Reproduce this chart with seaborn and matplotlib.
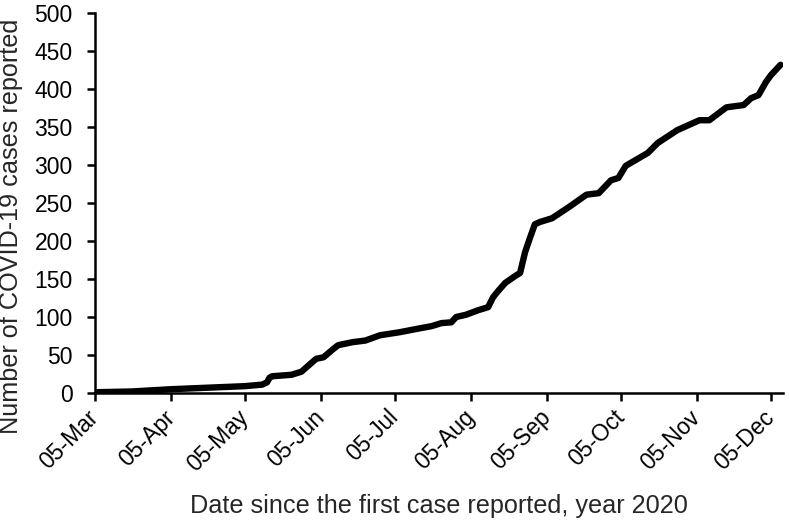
import pandas as pd
import matplotlib.pyplot as plt
import matplotlib.dates as mdates
import seaborn as sns

# cumulative reported cases
dates = ['2020-03-05', '2020-03-20', '2020-04-05', '2020-04-20', '2020-05-05',
         '2020-05-12', '2020-05-14', '2020-05-15', '2020-05-16', '2020-05-24',
         '2020-05-28', '2020-06-03', '2020-06-06', '2020-06-10', '2020-06-12',
         '2020-06-18', '2020-06-23', '2020-06-29', '2020-07-07', '2020-07-15',
         '2020-07-20', '2020-07-24', '2020-07-28', '2020-07-30', '2020-08-03',
         '2020-08-08', '2020-08-12', '2020-08-14', '2020-08-16', '2020-08-19',
         '2020-08-23', '2020-08-25', '2020-08-27', '2020-08-29', '2020-08-31',
         '2020-09-02', '2020-09-07', '2020-09-14', '2020-09-21', '2020-09-26',
         '2020-10-01', '2020-10-04', '2020-10-07', '2020-10-16', '2020-10-20',
         '2020-10-28', '2020-11-06', '2020-11-10', '2020-11-17', '2020-11-24',
         '2020-11-27', '2020-11-30', '2020-12-03', '2020-12-05', '2020-12-09']
cases = [1, 2, 5, 7, 9,
         11, 14, 20, 22, 24,
         28, 45, 47, 58, 63,
         67, 69, 76, 80, 85,
         88, 92, 93, 100, 103,
         109, 113, 126, 134, 145,
         154, 158, 185, 204, 222,
         225, 230, 245, 261, 263,
         280, 283, 299, 316, 329,
         346, 359, 359, 376, 379,
         388, 392, 409, 418, 432]

tick_dates = ['2020-03-05', '2020-04-05', '2020-05-05', '2020-06-05', '2020-07-05',
              '2020-08-05', '2020-09-05', '2020-10-05', '2020-11-05', '2020-12-05']

df = pd.DataFrame({'date': pd.to_datetime(dates), 'cases': cases})

sns.set_style("ticks")
plt.rcParams['font.family'] = ['Liberation Sans', 'DejaVu Sans']

fig = plt.figure(figsize=(7.89, 5.24), dpi=100)
ax = fig.add_axes([0.1204, 0.25, 0.872, 0.725])

sns.lineplot(data=df, x='date', y='cases', color='black', linewidth=4.6, ax=ax)

ax.set_xlim(pd.Timestamp('2020-03-05'), pd.Timestamp('2020-12-10'))
ax.set_ylim(0, 500)
ax.set_yticks(range(0, 501, 50))
ax.set_xticks(pd.to_datetime(tick_dates))
ax.xaxis.set_major_formatter(mdates.DateFormatter('%d-%b'))

ax.tick_params(axis='both', direction='out', length=6, width=1.8, labelsize=16.5, colors='black')
ax.tick_params(axis='y', pad=10)
ax.tick_params(axis='x', pad=9)
for lbl in ax.get_xticklabels():
    lbl.set_rotation(45)
    lbl.set_ha('right')
    lbl.set_va('center')
    lbl.set_rotation_mode('anchor')

for s in ['left', 'bottom']:
    ax.spines[s].set_linewidth(1.8)
    ax.spines[s].set_color('black')
sns.despine(ax=ax)

ax.set_xlabel('Date since the first case reported, year 2020', fontsize=18.2, labelpad=13)
ax.set_ylabel('Number of COVID-19 cases reported', fontsize=18.2)
ax.yaxis.set_label_coords(-0.105, 0.44)

fig.savefig('out.png', dpi=100)
